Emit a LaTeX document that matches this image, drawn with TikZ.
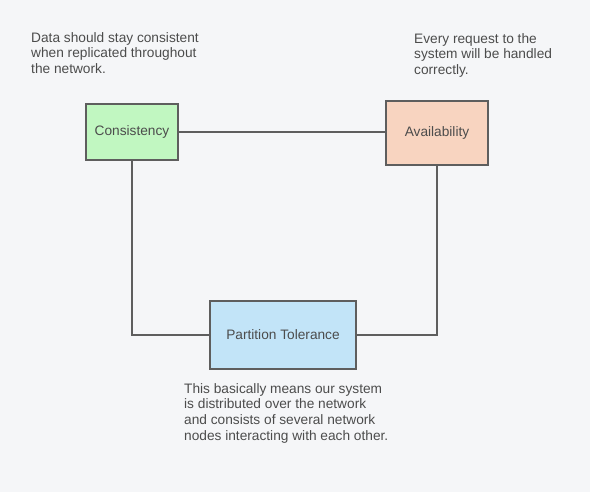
\documentclass[tikz,border=0pt]{standalone}
\usepackage{fontspec}
\setmainfont{Liberation Sans}
\usepackage{xcolor}
\usetikzlibrary{positioning,calc}

\definecolor{bgcol}{HTML}{F5F6F8}
\definecolor{edgecol}{HTML}{5E5E5E}
\definecolor{txtcol}{HTML}{4C4C4C}
\definecolor{cfill}{HTML}{C1F7C1}
\definecolor{afill}{HTML}{F8D4C0}
\definecolor{pfill}{HTML}{C2E4F8}

\begin{document}
\begin{tikzpicture}[x=1pt, y=-1pt,
    box/.style={draw=edgecol, line width=1.4pt, rectangle, inner sep=0pt, text=txtcol,
        font=\fontsize{13.7}{15.7}\selectfont},
    note/.style={inner sep=0pt, anchor=north west, align=left, text=txtcol,
        font=\fontsize{13.7}{15.7}\selectfont},
    link/.style={draw=edgecol, line width=1.4pt}]
    \fill[bgcol] (0,0) rectangle (590,492);
    \useasboundingbox (0,0) rectangle (590,492);

    \node[box, fill=cfill, minimum width=92pt, minimum height=56pt] (cons) at (132,132) {Consistency};
    \node[box, fill=afill, minimum width=102pt, minimum height=64pt] (avail) at (437,133) {Availability};
    \node[box, fill=pfill, minimum width=146pt, minimum height=68pt] (part) at (283,335) {Partition Tolerance};

    \node[note] (consnote) at (31,32) {Data should stay consistent\\when replicated throughout\\the network.};
    \node[note] (availnote) at (414,33) {Every request to the\\system will be handled\\correctly.};
    \node[note] (partnote) at (184,383) {This basically means our system\\is distributed over the network\\and consists of several network\\nodes interacting with each other.};

    % Edges
    \draw[link] (cons.east) -- (cons.east -| avail.west);
    \draw[link] (cons.south) |- (part.west);
    \draw[link] (avail.south) |- (part.east);
\end{tikzpicture}
\end{document}
